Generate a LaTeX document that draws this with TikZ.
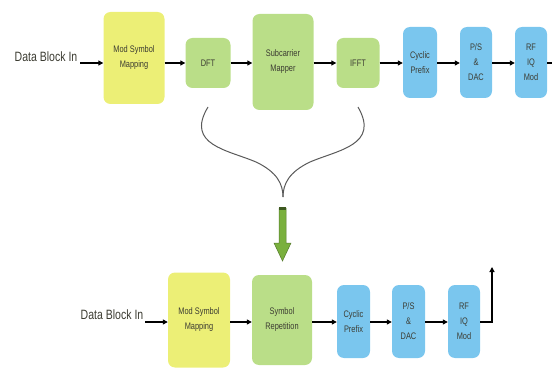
\documentclass[tikz,border=0pt]{standalone}
\usepackage{fontspec}
\setmainfont[FakeStretch=0.78]{Liberation Sans}
\usetikzlibrary{arrows.meta}
\definecolor{boxyellow}{RGB}{236,239,118}
\definecolor{boxgreen}{RGB}{186,222,136}
\definecolor{boxblue}{RGB}{122,198,238}
\definecolor{arrgreen}{RGB}{122,176,62}
\definecolor{txtgray}{RGB}{60,60,50}
\tikzset{
  blk/.style={rounded corners=7pt, draw=none, align=center, inner sep=0pt,
    text=txtgray, font=\fontsize{9.5}{15}\selectfont},
  ylw/.style={blk, fill=boxyellow},
  grn/.style={blk, fill=boxgreen},
  blu/.style={blk, fill=boxblue},
  lbl/.style={text=txtgray, font=\fontsize{13.5}{15}\selectfont, inner sep=0pt},
  flow/.style={-{Triangle[length=5pt,width=5pt]}, line width=1.2pt, black},
  brace/.style={line width=1pt, draw=black!65}
}
\begin{document}
\begin{tikzpicture}[x=1pt,y=-1pt]
\useasboundingbox (0,0) rectangle (552,369);
% ---- upper chain (SC-FDMA) ----
\node[lbl] (din1) at (46,57) {Data Block In};
\node[ylw, minimum width=61pt, minimum height=92pt] (msm1) at (134,58) {Mod Symbol\\Mapping};
\node[grn, minimum width=45pt, minimum height=50pt] (dft) at (208,63) {DFT};
\node[grn, minimum width=61pt, minimum height=96pt] (scm) at (283,62) {Subcarrier\\Mapper};
\node[grn, minimum width=43pt, minimum height=50pt] (ifft) at (358,63) {IFFT};
\node[blu, minimum width=34pt, minimum height=71pt] (cp1) at (420,62.5) {Cyclic\\Prefix};
\node[blu, minimum width=32pt, minimum height=71pt] (ps1) at (476,62.5) {P/S\\\&\\DAC};
\node[blu, minimum width=32pt, minimum height=71pt] (rf1) at (531,62.5) {RF\\IQ\\Mod};
\coordinate (out1) at (552,63);
\draw[flow] (80,63) -- (msm1.west|-0,63);
\draw[flow] (msm1.east|-0,63) -- (dft.west);
\draw[flow] (dft.east) -- (scm.west|-0,63);
\draw[flow] (scm.east|-0,63) -- (ifft.west);
\draw[flow] (ifft.east) -- (cp1.west|-0,63);
\draw[flow] (cp1.east|-0,63) -- (ps1.west|-0,63);
\draw[flow] (ps1.east|-0,63) -- (rf1.west|-0,63);
\draw[line width=1.2pt] (rf1.east|-0,63) -- (out1);
% ---- brace gathering DFT .. IFFT ----
\coordinate (tip) at (283,197);
\draw[brace] (dft.south|-0,107) .. controls (185,145) and (228,150) .. (256,162)
  .. controls (277,172) and (283,184) .. (tip);
\draw[brace] (ifft.south|-0,107) .. controls (380,145) and (338,150) .. (310,162)
  .. controls (289,172) and (283,184) .. (tip);
% ---- simplification arrow ----
\fill[arrgreen, draw=arrgreen!70!black, line width=0.5pt]
  (279,208) -- (286,208) -- (286,243) -- (291,243) -- (282.5,261) -- (274,243) -- (279,243) -- cycle;
\fill[arrgreen!50!black] (279,207) rectangle (286,210);
% ---- lower chain (OFDMA-like) ----
\node[lbl] (din2) at (112,315) {Data Block In};
\node[ylw, minimum width=62pt, minimum height=95pt] (msm2) at (199,320) {Mod Symbol\\Mapping};
\node[grn, minimum width=60pt, minimum height=90pt] (rep) at (282,320) {Symbol\\Repetition};
\node[blu, minimum width=33pt, minimum height=73pt] (cp2) at (353.5,321.5) {Cyclic\\Prefix};
\node[blu, minimum width=33pt, minimum height=73pt] (ps2) at (408.5,321.5) {P/S\\\&\\DAC};
\node[blu, minimum width=32pt, minimum height=73pt] (rf2) at (464,321.5) {RF\\IQ\\Mod};
\coordinate (up2) at (492,267);
\draw[flow] (145,322) -- (msm2.west|-0,322);
\draw[flow] (msm2.east|-0,322) -- (rep.west|-0,322);
\draw[flow] (rep.east|-0,322) -- (cp2.west|-0,322);
\draw[flow] (cp2.east|-0,322) -- (ps2.west|-0,322);
\draw[flow] (ps2.east|-0,322) -- (rf2.west|-0,322);
\draw[flow] (rf2.east|-0,322) -| (up2);
\end{tikzpicture}
\end{document}
